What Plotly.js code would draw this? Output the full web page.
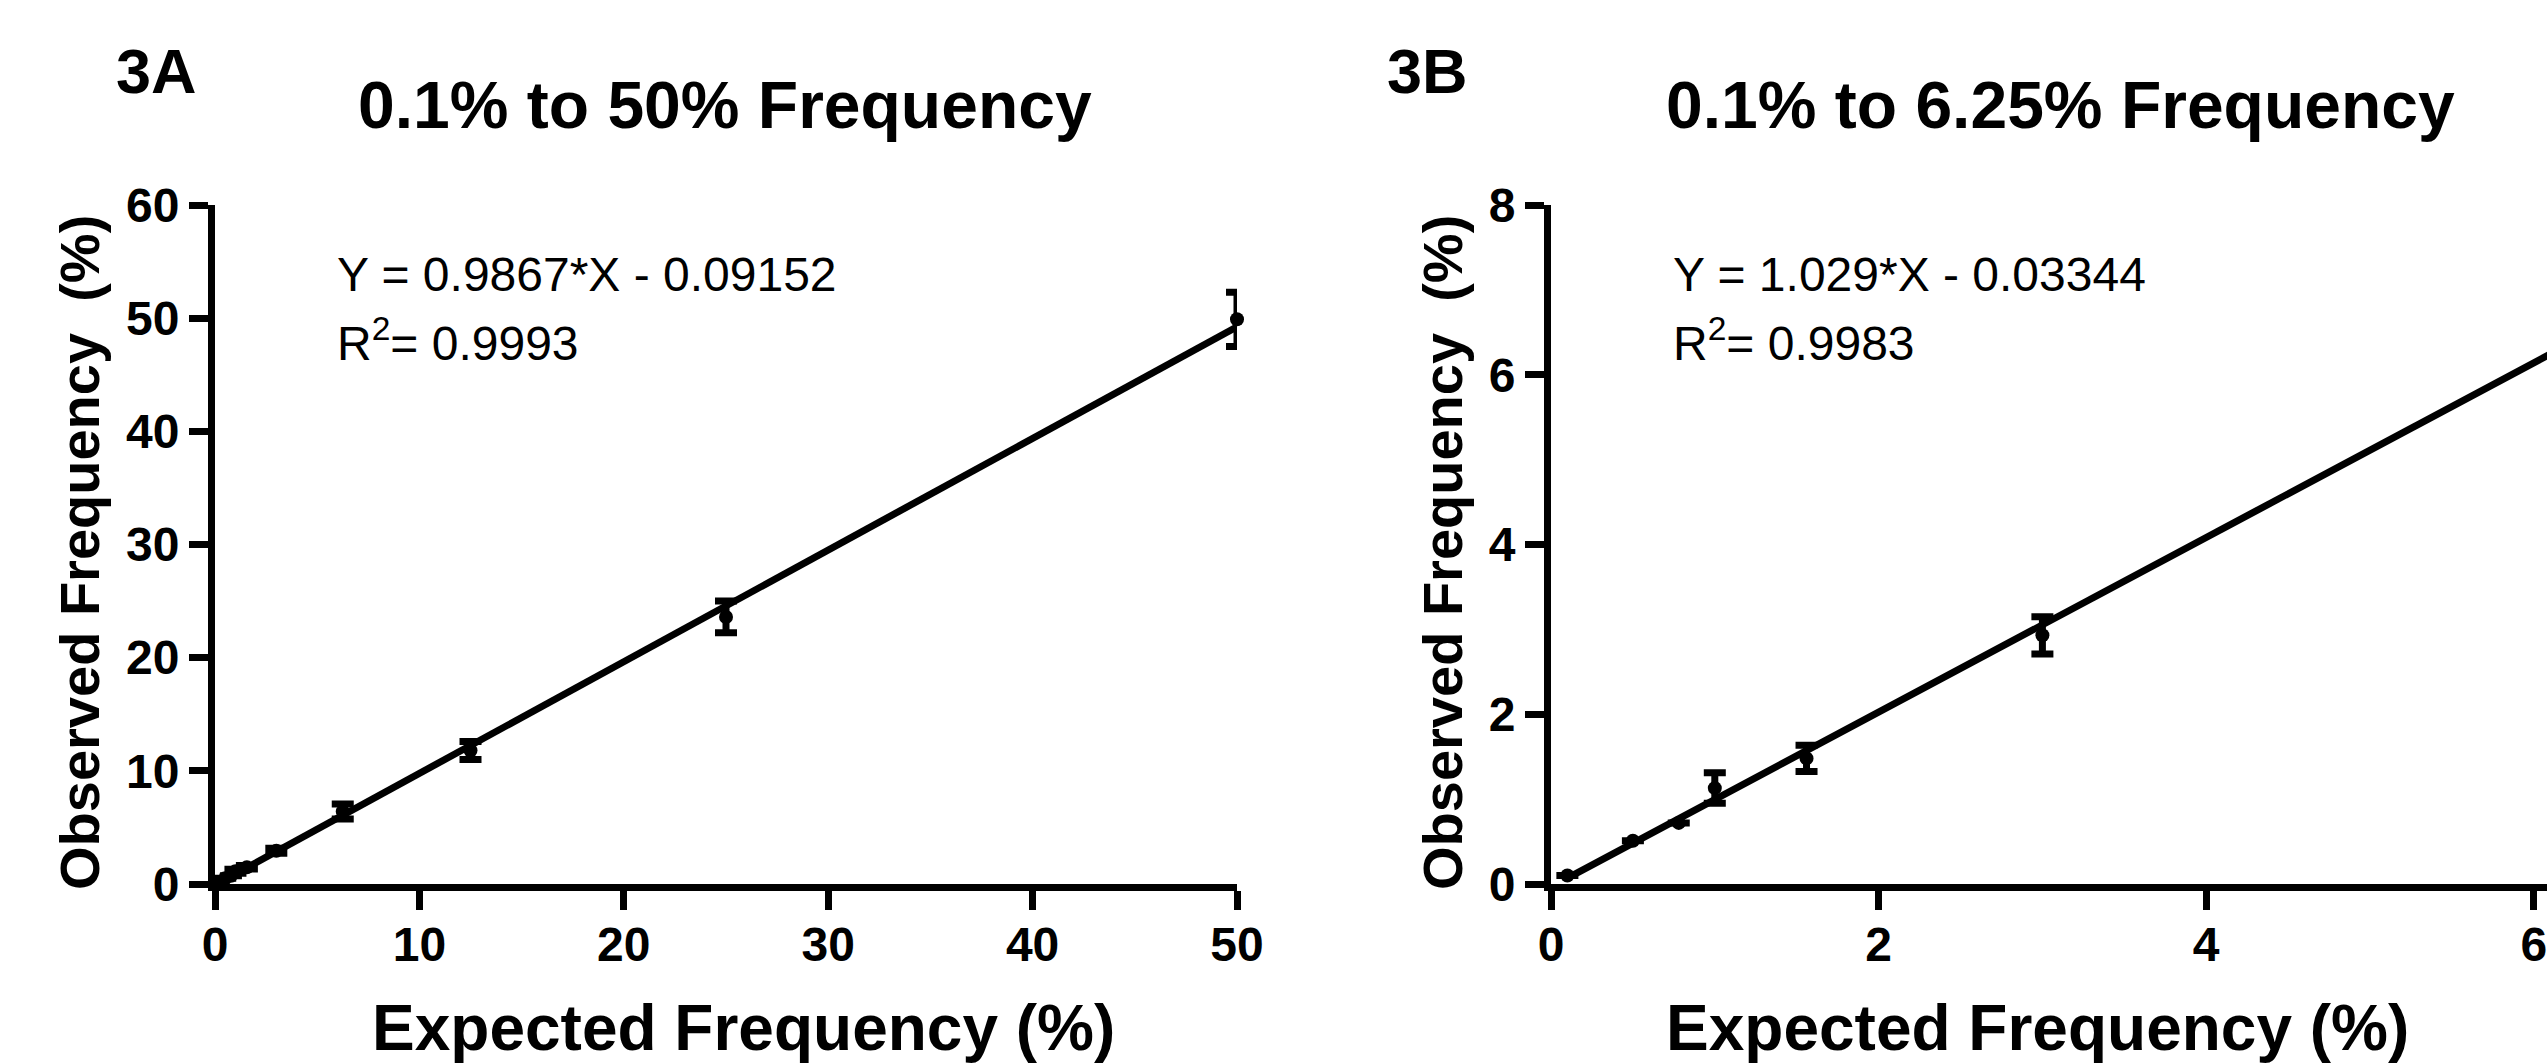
<!DOCTYPE html>
<html>
<head>
<meta charset="utf-8">
<script src="https://cdn.plot.ly/plotly-3.0.1.min.js"></script>
<style>
html, body { margin: 0; padding: 0; overflow: hidden; background: #fff; }
#chart { width: 2800px; height: 1064px; }
</style>
</head>
<body>
<div id="chart"></div>
<script>
// ---- Data ----
const panelLabels = ["3A", "3B"];
const panelTitles = ["0.1% to 50% Frequency", "0.1% to 6.25% Frequency"];
const xTitle = "Expected Frequency (%)";
const yTitle = "Observed Frequency\u00a0 (%)";

const expectedA = [0.1, 0.5, 0.78, 1.0, 1.56, 3.0, 6.25, 12.5, 25, 50];
const observedA = [0.1, 0.51, 0.72, 1.13, 1.48, 2.93, 6.4, 11.8, 23.6, 49.9];
const errorA    = [0, 0, 0, 0.18, 0.155, 0.22, 0.66, 0.8, 1.4, 2.4];

const expectedB = [0.1, 0.5, 0.78, 1.0, 1.56, 3.0, 6.25];
const observedB = [0.1, 0.51, 0.72, 1.13, 1.48, 2.93, 6.4];
const errorB    = [0, 0, 0, 0.18, 0.155, 0.22, 0.66];

const slopeA = 0.9867, interceptA = -0.09152, r2A = "0.9993";
const slopeB = 1.029,  interceptB = -0.03344, r2B = "0.9983";

// ---- Geometry helpers (pixel -> paper) ----
const W = 2800, H = 1064;
const fx = p => p / W;
const fy = p => 1 - p / H;

const FONT = "Liberation Sans, Arial, sans-serif";
const black = "#000";
const LW = 7;

function fitLine(xs, slope, intercept) {
  const x0 = Math.min(...xs), x1 = Math.max(...xs);
  return { x: [x0, x1], y: [slope * x0 + intercept, slope * x1 + intercept] };
}
const fitA = fitLine(expectedA, slopeA, interceptA);
const fitB = fitLine(expectedB, slopeB, interceptB);

const markerStyle = { color: black, size: 14 };
const errStyle = arr => ({ type: "data", array: arr, visible: true, color: black, thickness: 7, width: 11 });

const traces = [
  { x: fitA.x, y: fitA.y, xaxis: "x", yaxis: "y", mode: "lines",
    line: { color: black, width: LW }, hoverinfo: "skip", cliponaxis: false },
  { x: expectedA, y: observedA, xaxis: "x", yaxis: "y", mode: "markers",
    marker: markerStyle, error_y: errStyle(errorA), cliponaxis: false },
  { x: fitB.x, y: fitB.y, xaxis: "x2", yaxis: "y2", mode: "lines",
    line: { color: black, width: LW }, hoverinfo: "skip" },
  { x: expectedB, y: observedB, xaxis: "x2", yaxis: "y2", mode: "markers",
    marker: markerStyle, error_y: errStyle(errorB), cliponaxis: false }
];

const tickfont = { family: FONT, size: 48, color: black, weight: 700 };
function axisBase(extra) {
  return Object.assign({
    showline: true, linewidth: LW, linecolor: black,
    ticks: "outside", ticklen: 19, tickwidth: LW, tickcolor: black,
    showgrid: false, zeroline: false, tickfont: tickfont, fixedrange: true
  }, extra);
}

function eqText(slope, intercept) {
  const sign = intercept < 0 ? " - " : " + ";
  return "Y = " + slope + "*X" + sign + Math.abs(intercept);
}

const annFont = { family: FONT, size: 48, color: black };
const boldTitle = { family: FONT, size: 66, color: black, weight: 700 };
const boldLabel = { family: FONT, size: 63, color: black, weight: 700 };
const xTitleFont = { family: FONT, size: 64, color: black, weight: 700 };
const yTitleFont = { family: FONT, size: 56, color: black, weight: 700 };

const annotations = [
  // panel labels
  { text: panelLabels[0], x: fx(114), y: fy(71), xanchor: "left", yanchor: "middle", font: boldLabel },
  { text: panelLabels[1], x: fx(1385), y: fy(71), xanchor: "left", yanchor: "middle", font: boldLabel },
  // panel titles
  { text: panelTitles[0], x: fx(725), y: fy(105), xanchor: "center", yanchor: "middle", font: boldTitle },
  { text: panelTitles[1], x: fx(2060), y: fy(105), xanchor: "center", yanchor: "middle", font: boldTitle },
  // axis titles
  { text: xTitle, x: fx(743), y: fy(1028), xanchor: "center", yanchor: "middle", font: xTitleFont, borderpad: 0 },
  { text: xTitle, x: fx(2037), y: fy(1028), xanchor: "center", yanchor: "middle", font: xTitleFont, borderpad: 0 },
  { text: yTitle, x: fx(79), y: fy(553), xanchor: "center", yanchor: "middle", textangle: -90, font: yTitleFont },
  { text: yTitle, x: fx(1442), y: fy(553), xanchor: "center", yanchor: "middle", textangle: -90, font: yTitleFont },
  // regression equations
  { text: eqText(slopeA, interceptA), x: fx(335), y: fy(274), xanchor: "left", yanchor: "middle", font: annFont },
  { text: "R<sup>2</sup>= " + r2A, x: fx(335), y: fy(340), xanchor: "left", yanchor: "middle", font: annFont },
  { text: eqText(slopeB, interceptB), x: fx(1671), y: fy(274), xanchor: "left", yanchor: "middle", font: annFont },
  { text: "R<sup>2</sup>= " + r2B, x: fx(1671), y: fy(340), xanchor: "left", yanchor: "middle", font: annFont }
].map(a => Object.assign({ xref: "paper", yref: "paper", showarrow: false }, a));

const layout = {
  width: W, height: H,
  margin: { l: 0, r: 0, t: 0, b: 0, pad: 0 },
  paper_bgcolor: "#fff", plot_bgcolor: "#fff",
  showlegend: false,
  xaxis: axisBase({ domain: [fx(215), fx(1237)], range: [0, 50], tick0: 0, dtick: 10, anchor: "y", ticklabelstandoff: -7 }),
  yaxis: axisBase({ domain: [fy(884), fy(205)], range: [0, 60], tick0: 0, dtick: 10, anchor: "x" }),
  xaxis2: axisBase({ domain: [fx(1551), fx(1551 + 7.5 * 163.8)], range: [0, 7.5], tick0: 0, dtick: 2, anchor: "y2", ticklabelstandoff: -7 }),
  yaxis2: axisBase({ domain: [fy(884), fy(205)], range: [0, 8], tick0: 0, dtick: 2, anchor: "x2" }),
  annotations: annotations
};

Plotly.newPlot("chart", traces, layout, { staticPlot: true, displayModeBar: false });
</script>
</body>
</html>
